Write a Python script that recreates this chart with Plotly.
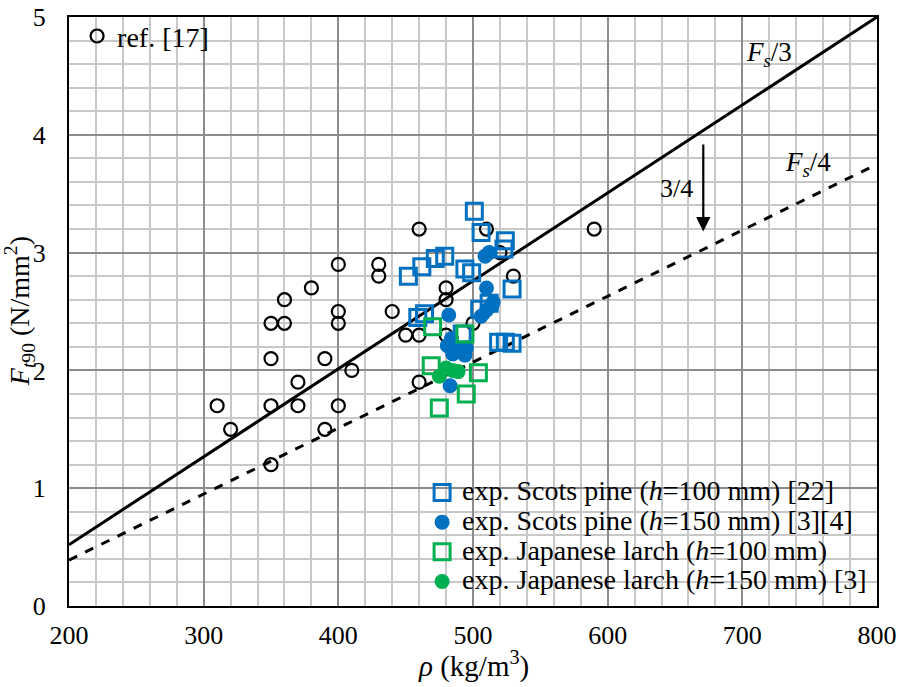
import plotly.graph_objects as go

# ---- data ----
ref17_x = [310, 320, 350, 350, 350, 350, 360, 360, 370, 370, 380, 390, 390, 400, 400, 400, 400, 410,
           430, 430, 440, 450, 460, 460, 460, 480, 480, 480, 500, 510, 520, 530, 590]
ref17_y = [1.7, 1.5, 1.2, 1.7, 2.1, 2.4, 2.6, 2.4, 1.9, 1.7, 2.7, 1.5, 2.1, 2.9, 2.5, 2.4, 1.7, 2.0,
           2.9, 2.8, 2.5, 2.3, 2.3, 1.9, 3.2, 2.7, 2.6, 2.3, 2.4, 3.2, 3.0, 2.8, 3.2]

pine100_x = [501, 506, 524, 523, 479, 472, 462, 452, 494, 499, 529, 459, 464, 505, 512, 492, 519, 524, 529]
pine100_y = [3.35, 3.17, 3.10, 3.03, 2.97, 2.95, 2.88, 2.80, 2.86, 2.83, 2.69, 2.45, 2.48, 2.52, 2.57,
             2.31, 2.24, 2.24, 2.23]

pine150_x = [509, 512, 510, 482, 506, 510, 514, 515, 484, 481, 485, 490, 495, 494, 483]
pine150_y = [2.97, 3.00, 2.70, 2.47, 2.46, 2.51, 2.55, 2.58, 2.27, 2.21, 2.14, 2.17, 2.19, 2.13, 1.87]

larch100_x = [470, 494, 469, 504, 495, 475]
larch100_y = [2.37, 2.31, 2.04, 1.98, 1.80, 1.68]

larch150_x = [475, 480, 485, 489]
larch150_y = [1.95, 2.02, 2.00, 1.99]

line_x = [200, 800]
fs3_y = [0.52, 5.0]
fs4_y = [0.39, 3.75]

BLUE = "#0070C0"
GREEN = "#00B050"
FONT = "Liberation Serif, Times New Roman, serif"


def big(s, px=28):
    return '<span style="font-size:%dpx">%s</span>' % (px, s)


fig = go.Figure()

fig.add_trace(go.Scatter(x=line_x, y=fs3_y, mode="lines", line=dict(color="black", width=3),
                         showlegend=False, hoverinfo="skip"))
fig.add_trace(go.Scatter(x=line_x, y=fs4_y, mode="lines", line=dict(color="black", width=3, dash="dash"),
                         showlegend=False, hoverinfo="skip"))

fig.add_trace(go.Scatter(x=ref17_x, y=ref17_y, mode="markers", name="ref. [17]", legend="legend",
                         marker=dict(symbol="circle-open", size=13, color="black", line=dict(width=2.2))))

fig.add_trace(go.Scatter(x=pine100_x, y=pine100_y, mode="markers", legend="legend2",
                         name=big("exp. Scots pine (<i>h</i>=100 mm) [22]"),
                         marker=dict(symbol="square-open", size=16, color=BLUE, line=dict(width=3))))
fig.add_trace(go.Scatter(x=pine150_x, y=pine150_y, mode="markers", legend="legend2",
                         name=big("exp. Scots pine (<i>h</i>=150 mm) [3][4]"),
                         marker=dict(symbol="circle", size=15, color=BLUE)))
fig.add_trace(go.Scatter(x=larch100_x, y=larch100_y, mode="markers", legend="legend2",
                         name=big("exp. Japanese larch (<i>h</i>=100 mm)"),
                         marker=dict(symbol="square-open", size=16, color=GREEN, line=dict(width=3))))
fig.add_trace(go.Scatter(x=larch150_x, y=larch150_y, mode="markers", legend="legend2",
                         name=big("exp. Japanese larch (<i>h</i>=150 mm) [3]"),
                         marker=dict(symbol="circle", size=15, color=GREEN)))

axis_common = dict(
    showgrid=True, gridcolor="#8c8c8c", gridwidth=1.5,
    showline=True, linecolor="black", linewidth=2, mirror=True,
    ticks="", zeroline=False, automargin=False,
    tickfont=dict(family=FONT, size=26, color="black"),
)

fig.update_xaxes(range=[200, 800], dtick=100, tick0=200,
                 minor=dict(dtick=20, showgrid=True, gridcolor="#c8c8c8", gridwidth=1.5),
                 ticklabelstandoff=5, **axis_common)
fig.update_yaxes(range=[0, 5], dtick=1, tick0=0,
                 minor=dict(dtick=0.2, showgrid=True, gridcolor="#c8c8c8", gridwidth=1.5),
                 ticklabelstandoff=16, **axis_common)

annotations = [
    dict(text="<i>F</i><sub><i>t</i>90</sub> (N/mm<sup>2</sup>)", xref="paper", yref="paper",
         x=-0.061, y=0.50, textangle=-90, showarrow=False, xanchor="center", yanchor="middle",
         font=dict(family=FONT, size=28, color="black")),
    dict(text="<i>ρ</i> (kg/m<sup>3</sup>)", xref="paper", yref="paper",
         x=0.5, y=-0.1, showarrow=False, xanchor="center", yanchor="middle",
         font=dict(family=FONT, size=29, color="black")),
    dict(text="<i>F<sub>s</sub></i>/3", x=720, y=4.69, showarrow=False,
         font=dict(family=FONT, size=27, color="black")),
    dict(text="<i>F<sub>s</sub></i>/4", x=749, y=3.75, showarrow=False,
         font=dict(family=FONT, size=27, color="black")),
    dict(text="3/4", x=651, y=3.54, showarrow=False,
         font=dict(family=FONT, size=26, color="black")),
    dict(text="", x=671, y=3.18, ax=671, ay=3.93, axref="x", ayref="y",
         showarrow=True, arrowhead=2, arrowsize=1.3, arrowwidth=2.2, arrowcolor="black"),
]

fig.update_layout(
    width=898, height=687,
    margin=dict(l=69, r=21, t=16, b=81),
    plot_bgcolor="white", paper_bgcolor="white",
    font=dict(family=FONT, size=26, color="black"),
    annotations=annotations,
    legend=dict(x=0.01, y=1.008, xanchor="left", yanchor="top", bgcolor="rgba(0,0,0,0)",
                font=dict(family=FONT, size=28, color="black"), itemwidth=30),
    legend2=dict(x=0.437, y=0.226, xanchor="left", yanchor="top", bgcolor="rgba(0,0,0,0)",
                 font=dict(family=FONT, size=20.5, color="black"), itemwidth=30, tracegroupgap=0),
)

fig.write_html("out.html", config={"displayModeBar": False},
               post_script="document.body.style.margin='0';")
